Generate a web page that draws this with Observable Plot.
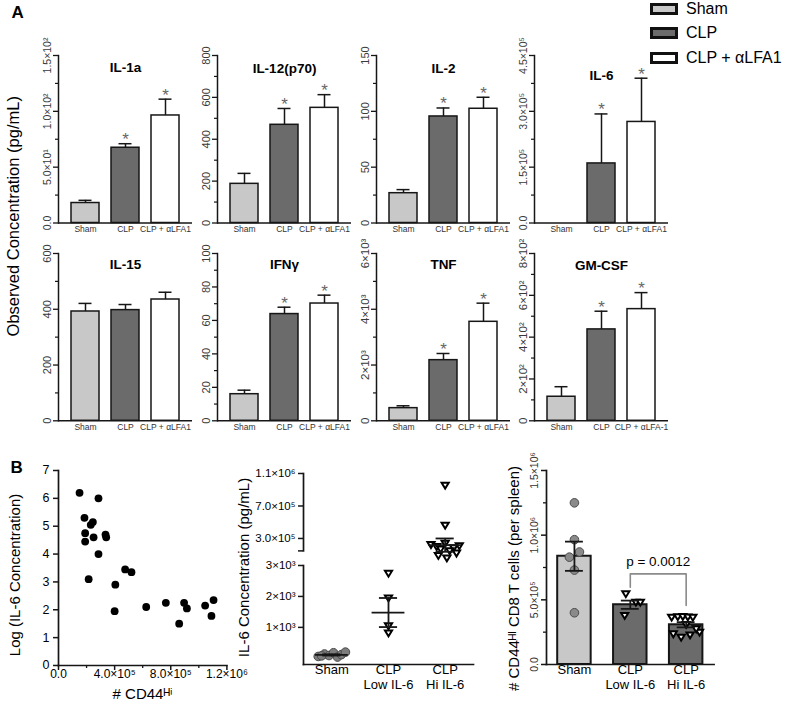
<!DOCTYPE html>
<html><head><meta charset="utf-8">
<script src="https://cdn.jsdelivr.net/npm/d3@7"></script>
<script src="https://cdn.jsdelivr.net/npm/@observablehq/plot@0.6"></script>
<style>
body{margin:0;background:#fff;}
#root{position:relative;width:786px;height:706px;overflow:hidden;font-family:"Liberation Sans",Arial,sans-serif;color:#000;background:#fff;}
#root svg{position:absolute;overflow:visible;}
.leg{position:absolute;display:flex;align-items:center;font-size:16px;white-space:nowrap;}
.leg span.box{display:inline-block;width:22px;height:6px;border:3px solid #111;margin-right:8px;}
</style></head><body><div id="root"></div>
<script>
// ---------------- DATA ----------------
// Panel A
const groupsA = ["Sham", "CLP", "CLP + αLFA1"];
const groupColors = ["#c8c8c8", "#6b6b6b", "#ffffff"];
const cytokines = ["IL-1a", "IL-12(p70)", "IL-2", "IL-6", "IL-15", "IFNγ", "TNF", "GM-CSF"];
const meanSham = [17.9, 187, 26.7, 0, 392, 15.9, 454, 115];
const meanCLP  = [67.4, 469, 95.4, 160000, 397, 63.8, 2175, 437];
const meanCLPa = [96.3, 550, 102.3, 271500, 435, 70.1, 3550, 534];
const errSham  = [20.3, 237, 29.9, 0, 421, 18.3, 538, 163];
const errCLP   = [71.0, 547, 103, 293000, 417, 67.9, 2414, 524];
const errCLPa  = [110.9, 613, 112.6, 389000, 461, 75.1, 4219, 613];
const starCLP  = [1, 1, 1, 1, 0, 1, 1, 1];
const starCLPa = [1, 1, 1, 1, 0, 1, 1, 1];
const yMaxA    = [150, 800, 150, 450000, 600, 100, 6000, 800];
const yStepA   = [50, 200, 50, 150000, 200, 20, 2000, 200];
const yMinorA  = [25, 100, 25, 75000, 100, 10, 1000, 100];
const yTickLabelsA = [
  ["0.0", "5.0×10¹", "1.0×10²", "1.5×10²"],
  ["0", "200", "400", "600", "800"],
  ["0", "50", "100", "150"],
  ["0.0", "1.5×10⁵", "3.0×10⁵", "4.5×10⁵"],
  ["0", "200", "400", "600"],
  ["0", "20", "40", "60", "80", "100"],
  ["0", "2×10³", "4×10³", "6×10³"],
  ["0", "2×10²", "4×10²", "6×10²", "8×10²"]
];
const catLabelsA = [
  ["Sham", "CLP", "CLP + αLFA1"], ["Sham", "CLP", "CLP + αLFA1"], ["Sham", "CLP", "CLP + αLFA1"], ["Sham", "CLP", "CLP + αLFA1"],
  ["Sham", "CLP", "CLP + αLFA1"], ["Sham", "CLP", "CLP + αLFA1"], ["Sham", "CLP", "CLP + αLFA1"], ["Sham", "CLP", "CLP + αLFA-1"]
];
const legendLabels = ["Sham", "CLP", "CLP + αLFA1"];
const titleA = "Observed Concentration (pg/mL)";

// Panel B left: scatter
const cd44Hi = [150000, 285000, 185000, 245000, 230000, 190000, 190000, 250000, 335000, 340000, 285000, 215000,
                405000, 475000, 520000, 400000, 625000, 765000, 895000, 915000, 860000, 1045000, 1105000, 1090000];
const logIL6 = [6.2, 6.0, 5.3, 5.15, 5.05, 4.75, 4.45, 4.6, 4.7, 4.6, 4.0, 3.1,
                2.9, 3.45, 3.35, 1.95, 2.1, 2.25, 2.25, 2.05, 1.5, 2.15, 2.35, 1.78];
const scatterXTicks = [0, 400000, 800000, 1200000];
const scatterXLabels = ["0.0", "4.0×10⁵", "8.0×10⁵", "1.2×10⁶"];
const scatterXMinor = [200000, 600000, 1000000];
const scatterYTicks = [0, 1, 2, 3, 4, 5, 6, 7];
const scatterYLabels = ["0", "1", "2", "3", "4", "5", "6", "7"];
const scatterXTitle = "# CD44ᴴⁱ";
const scatterYTitle = "Log (IL-6 Concentration)";

// Panel B middle: IL-6 by group (broken axis)
const groupsB = ["Sham", "CLP\nLow IL-6", "CLP\nHi IL-6"];
const il6Sham = [60, 140, 90, 180, 40, 120, 200, 80];
const il6ShamJitter = [-0.24, -0.13, -0.05, 0.03, 0.1, 0.17, 0.24, -0.18];
const il6Low = [2750, 1950, 1050, 820];
const il6LowJitter = [0, 0, 0, 0];
const il6Hi = [956000, 464000, 240000, 225000, 210000, 200000, 185000, 170000, 150000, 120000, 90000, 60000];
const il6HiJitter = [0, 0, 0, -0.25, 0.25, -0.15, 0.15, -0.08, 0.08, 0.2, -0.12, 0.03];
const il6Mean = [110, 1480, 218000];
const il6Sem = [20, 470, 82000];
const il6UpperTicks = [300000, 700000, 1100000];
const il6UpperLabels = ["3.0×10⁵", "7.0×10⁵", "1.1×10⁶"];
const il6BreakValue = 147000;
const il6LowerTicks = [1000, 2000, 3000];
const il6LowerLabels = ["1×10³", "2×10³", "3×10³"];
const il6YTitle = "IL-6 Concentration (pg/mL)";

// Panel B right: CD44hi CD8 T cells
const cd8Sham = [1250000, 965000, 870000, 830000, 730000, 400000];
const cd8ShamJitter = [0, 0, 0.09, -0.09, 0, 0];
const cd8Low = [547000, 379000, 482000, 482000];
const cd8LowJitter = [-0.08, -0.1, 0.1, 0.18];
const cd8Hi = [366000, 370000, 372000, 368000, 365000, 309000, 237000, 211000, 229000, 250000, 276000];
const cd8HiJitter = [-0.26, -0.15, -0.06, 0.03, 0.12, 0, -0.23, -0.09, 0.07, 0.24, 0.18];
const cd8Mean = [837000, 462000, 307000];
const cd8Sem = [113000, 32000, 20000];
const cd8Ticks = [0, 500000, 1000000, 1500000];
const cd8TickLabels = ["0.0", "5.0×10⁵", "1.0×10⁶", "1.5×10⁶"];
const cd8Minor = [250000, 750000, 1250000];
const cd8YTitle = "# CD44ᴴᴵ CD8 T cells (per spleen)";
const pBracket = {from: 1, to: 2, top: 701000, leftEnd: 598000, rightEnd: 456000, label: "p = 0.0012"};

// ---------------- HELPERS ----------------
const FONT = '"Liberation Sans", Arial, sans-serif';
const INK = "#161616";
const root = document.getElementById("root");
function place(svg, left, top) {
  svg.style.left = left + "px";
  svg.style.top = top + "px";
  root.appendChild(svg);
}
const triDown = {
  draw(ctx, size) {
    const r = Math.sqrt(size / Math.PI);
    ctx.moveTo(-1.15 * r, -0.8 * r);
    ctx.lineTo(1.15 * r, -0.8 * r);
    ctx.lineTo(0, 1.1 * r);
    ctx.closePath();
  }
};
function catLabelMarks(cats, fontSize) {
  const rows = cats.map((c, k) => {
    const parts = c.split("\n");
    return {k, a: parts[0], b: parts[1] || ""};
  });
  return [
    Plot.text(rows, {x: "k", text: "a", frameAnchor: "bottom", dy: 9.5, fontSize}),
    Plot.text(rows.filter(d => d.b), {x: "k", text: "b", frameAnchor: "bottom", dy: 24.5, fontSize})
  ];
}

// legend (plain positioned HTML, no transforms)
legendLabels.forEach((lab, j) => {
  const el = document.createElement("div");
  el.className = "leg";
  el.innerHTML = `<span class="box" style="background:${groupColors[j]}"></span>${lab}`;
  el.style.left = "650px";
  el.style.top = (0 + j * 24.3) + "px";
  root.appendChild(el);
});

// ---------------- PANEL A ----------------
const axisXA = [58, 216.5, 376, 534];
const rowTop = [54.5, 252.7], rowBottom = [222, 420];
const tickFontA = [10.5, 11, 11, 10.5, 11, 11, 11.5, 11.5];
const titleDy = [12, 13, 13, 20, 11.5, 11.5, 11, 12];
const meansA = [meanSham, meanCLP, meanCLPa];
const errsA = [errSham, errCLP, errCLPa];
const starsA = [[0,0,0,0,0,0,0,0], starCLP, starCLPa];

for (let i = 0; i < 8; i++) {
  const col = i % 4, row = Math.floor(i / 4);
  const mL = 44, mT = 40, mR = 14, mB = 26;
  const fw = 134, fh = rowBottom[row] - rowTop[row];
  const rows = groupsA.map((g, j) => ({g, v: meansA[j][i], e: errsA[j][i], star: starsA[j][i]}));
  const withErr = rows.filter(d => d.e > d.v);
  const ticks = d3.range(0, yMaxA[i] + yStepA[i] / 2, yStepA[i]);
  const minor = d3.range(0, yMaxA[i] + yMinorA[i] / 2, yMinorA[i]).filter(t => !ticks.some(u => Math.abs(u - t) < 1e-9));
  const tickRows = ticks.map((t, k) => ({t, lab: yTickLabelsA[i][k]}));
  const xLab = new Map(groupsA.map((g, j) => [g, catLabelsA[i][j]]));
  const extra = i === 0 ? [
    Plot.text(["A"], {frameAnchor: "top-left", dx: -47, dy: -42.5, text: d => d, fontWeight: "bold", fontSize: 17, lineAnchor: "middle"}),
    Plot.text([titleA], {frameAnchor: "left", dx: -45, dy: 77, rotate: -90, textAnchor: "middle", lineAnchor: "middle", text: d => d, fontSize: 16.5})
  ] : [];
  const svg = Plot.plot({
    width: mL + fw + mR, height: mT + fh + mB,
    marginLeft: mL, marginRight: mR, marginTop: mT, marginBottom: mB,
    style: {fontFamily: FONT, background: "transparent", overflow: "visible"},
    x: {type: "band", domain: groupsA, range: [mL + 13, mL + 121], paddingInner: 0.3, paddingOuter: 0, label: null},
    y: {domain: [0, yMaxA[i]], label: null},
    color: {domain: groupsA, range: groupColors},
    marks: [
      Plot.barY(rows, {x: "g", y: "v", fill: "g", stroke: INK, strokeWidth: 1.5}),
      Plot.ruleX(withErr, {x: "g", y1: "v", y2: "e", stroke: INK, strokeWidth: 1.5}),
      Plot.tickY(withErr, {x: "g", y: "e", stroke: INK, strokeWidth: 1.5, insetLeft: 7.5, insetRight: 7.5}),
      Plot.text(rows.filter(d => d.star), {x: "g", y: "e", text: () => "*", dy: -4, fontSize: 17, fill: "#666"}),
      Plot.ruleY([0], {stroke: INK, strokeWidth: 1.5}),
      Plot.frame({anchor: "left", stroke: INK, strokeWidth: 1.5}),
      Plot.axisY({ticks, tickSize: 5, tickFormat: () => "", stroke: INK, strokeWidth: 1.3, label: null}),
      Plot.axisY({ticks: minor, tickSize: 3, tickFormat: () => "", stroke: INK, strokeWidth: 1.2, label: null}),
      Plot.text(tickRows, {y: "t", text: "lab", frameAnchor: "left", dx: -11, rotate: -90, textAnchor: "middle", fontSize: tickFontA[i], fill: "#3a3a3a"}),
      Plot.axisX({tickSize: 0, tickPadding: 3, fontSize: 8.5, tickFormat: d => xLab.get(d), label: null, fill: "#333"}),
      Plot.text([cytokines[i]], {x: () => "CLP", frameAnchor: "top", lineAnchor: "middle", dy: titleDy[i], text: d => d, fontWeight: "bold", fontSize: 13.5}),
      ...extra
    ]
  });
  place(svg, axisXA[col] - mL, rowTop[row] - mT);
}

// ---------------- PANEL B LEFT (scatter) ----------------
{
  const mL = 50, mT = 14, mR = 20, mB = 36;
  const fx0 = 58.3, fx1 = 226.7, fy0 = 470, fy1 = 665;
  const pts = cd44Hi.map((x, k) => ({x, y: logIL6[k]}));
  const xRows = scatterXTicks.map((t, k) => ({t, lab: scatterXLabels[k]}));
  const yRows = scatterYTicks.map((t, k) => ({t, lab: scatterYLabels[k]}));
  const svg = Plot.plot({
    width: mL + (fx1 - fx0) + mR, height: mT + (fy1 - fy0) + mB,
    marginLeft: mL, marginRight: mR, marginTop: mT, marginBottom: mB,
    style: {fontFamily: FONT, background: "transparent", overflow: "visible"},
    x: {domain: [0, 1200000], label: null},
    y: {domain: [0, 7], label: null},
    marks: [
      Plot.frame({anchor: "left", stroke: INK, strokeWidth: 1.7}),
      Plot.frame({anchor: "bottom", stroke: INK, strokeWidth: 1.7}),
      Plot.axisX({ticks: scatterXTicks, tickSize: 5, tickFormat: () => "", stroke: INK, strokeWidth: 1.5, label: null}),
      Plot.axisX({ticks: scatterXMinor, tickSize: 3, tickFormat: () => "", stroke: INK, strokeWidth: 1.3, label: null}),
      Plot.axisY({ticks: scatterYTicks, tickSize: 5, tickFormat: () => "", stroke: INK, strokeWidth: 1.5, label: null}),
      Plot.text(xRows, {x: "t", text: "lab", frameAnchor: "bottom", dy: 13, fontSize: 12}),
      Plot.text(yRows, {y: "t", text: "lab", frameAnchor: "left", dx: -9, textAnchor: "end", fontSize: 12.5}),
      Plot.dot(pts, {x: "x", y: "y", r: 3.9, fill: "#000"}),
      Plot.text(["B"], {frameAnchor: "top-left", dx: -48, dy: -3, text: d => d, fontWeight: "bold", fontSize: 17, lineAnchor: "middle"}),
      Plot.text([scatterYTitle], {frameAnchor: "left", dx: -43, dy: 7, rotate: -90, textAnchor: "middle", lineAnchor: "middle", text: d => d, fontSize: 15}),
      Plot.text([scatterXTitle], {frameAnchor: "bottom", dy: 29, lineAnchor: "middle", text: d => d, fontSize: 15})
    ]
  });
  place(svg, fx0 - mL, fy0 - mT);
}

// ---------------- PANEL B MIDDLE (broken axis) ----------------
const statsB = il6Mean.map((m, k) => ({k, m, lo: m - il6Sem[k], hi: m + il6Sem[k]}));
const shamPts = il6Sham.map((v, k) => ({x: 0 + il6ShamJitter[k], v}));
const lowPts = il6Low.map((v, k) => ({x: 1 + il6LowJitter[k], v}));
const hiPts = il6Hi.map((v, k) => ({x: 2 + il6HiJitter[k], v}));
function meanSemMarks(stats) {
  return [
    Plot.ruleX(stats, {x: "k", y1: "lo", y2: "hi", stroke: INK, strokeWidth: 1.8}),
    Plot.ruleY(stats, {y: "m", x1: d => d.k - 0.29, x2: d => d.k + 0.29, stroke: INK, strokeWidth: 1.8}),
    Plot.ruleY(stats, {y: "hi", x1: d => d.k - 0.16, x2: d => d.k + 0.16, stroke: INK, strokeWidth: 1.8}),
    Plot.ruleY(stats, {y: "lo", x1: d => d.k - 0.16, x2: d => d.k + 0.16, stroke: INK, strokeWidth: 1.8})
  ];
}
{
  const mL = 52, mT = 10, mR = 12, mB = 0;
  const fx0 = 303.3, fx1 = 473.3, fy0 = 473.3, fy1 = 550.7;
  const rowsT = il6UpperTicks.map((t, k) => ({t, lab: il6UpperLabels[k]}));
  const svg = Plot.plot({
    width: mL + (fx1 - fx0) + mR, height: mT + (fy1 - fy0) + mB,
    marginLeft: mL, marginRight: mR, marginTop: mT, marginBottom: mB,
    style: {fontFamily: FONT, background: "transparent", overflow: "visible"},
    x: {domain: [-0.5, 2.5], axis: null},
    y: {domain: [il6BreakValue, 1100000], label: null},
    marks: [
      Plot.frame({anchor: "left", stroke: INK, strokeWidth: 1.7}),
      Plot.axisY({ticks: [...il6UpperTicks, il6BreakValue], tickSize: 5, tickFormat: () => "", stroke: INK, strokeWidth: 1.5, label: null}),
      Plot.text(rowsT, {y: "t", text: "lab", frameAnchor: "left", dx: -8, textAnchor: "end", fontSize: 11.5}),
      Plot.dot(hiPts, {x: "x", y: "v", r: 3.1, symbol: triDown, fill: "#fff", stroke: "#000", strokeWidth: 2}),
      ...meanSemMarks(statsB.filter(d => d.k === 2))
    ]
  });
  place(svg, fx0 - mL, fy0 - mT);
}
{
  const mL = 52, mT = 10, mR = 12, mB = 40;
  const fx0 = 303.3, fx1 = 473.3, fy0 = 565, fy1 = 664;
  const rowsT = il6LowerTicks.map((t, k) => ({t, lab: il6LowerLabels[k]}));
  const svg = Plot.plot({
    width: mL + (fx1 - fx0) + mR, height: mT + (fy1 - fy0) + mB,
    marginLeft: mL, marginRight: mR, marginTop: mT, marginBottom: mB,
    style: {fontFamily: FONT, background: "transparent", overflow: "visible"},
    x: {domain: [-0.5, 2.5], axis: null},
    y: {domain: [-200, 3000], label: null},
    marks: [
      Plot.frame({anchor: "left", stroke: INK, strokeWidth: 1.7}),
      Plot.frame({anchor: "bottom", stroke: INK, strokeWidth: 1.7}),
      Plot.axisY({ticks: il6LowerTicks, tickSize: 5, tickFormat: () => "", stroke: INK, strokeWidth: 1.5, label: null}),
      Plot.text(rowsT, {y: "t", text: "lab", frameAnchor: "left", dx: -8, textAnchor: "end", fontSize: 11.5}),
      ...catLabelMarks(groupsB, 13),
      Plot.dot(shamPts, {x: "x", y: "v", r: 4.3, fill: "#7d7d7d", stroke: "#4a4a4a", strokeWidth: 1}),
      Plot.dot(lowPts, {x: "x", y: "v", r: 3.1, symbol: triDown, fill: "#fff", stroke: "#000", strokeWidth: 2}),
      ...meanSemMarks(statsB.filter(d => d.k < 2)),
      Plot.text([il6YTitle], {frameAnchor: "left", dx: -59.3, dy: -47.5, rotate: -90, textAnchor: "middle", lineAnchor: "middle", text: d => d, fontSize: 15})
    ]
  });
  place(svg, fx0 - mL, fy0 - mT);
}

// ---------------- PANEL B RIGHT (bars + points) ----------------
{
  const mL = 36, mT = 12, mR = 14, mB = 40;
  const fx0 = 545.7, fx1 = 713.3, fy0 = 470, fy1 = 664;
  const bars = cd8Mean.map((m, k) => ({k, m, lo: m - cd8Sem[k], hi: m + cd8Sem[k], g: groupsB[k]}));
  const sPts = cd8Sham.map((v, k) => ({x: 0 + cd8ShamJitter[k], v}));
  const lPts = cd8Low.map((v, k) => ({x: 1 + cd8LowJitter[k], v}));
  const hPts = cd8Hi.map((v, k) => ({x: 2 + cd8HiJitter[k], v}));
  const tickRows = cd8Ticks.map((t, k) => ({t, lab: cd8TickLabels[k]}));
  const bracket = [
    {x: pBracket.from, y: pBracket.leftEnd}, {x: pBracket.from, y: pBracket.top},
    {x: pBracket.to, y: pBracket.top}, {x: pBracket.to, y: pBracket.rightEnd}
  ];
  const svg = Plot.plot({
    width: mL + (fx1 - fx0) + mR, height: mT + (fy1 - fy0) + mB,
    marginLeft: mL, marginRight: mR, marginTop: mT, marginBottom: mB,
    style: {fontFamily: FONT, background: "transparent", overflow: "visible"},
    x: {domain: [-0.5, 2.5], axis: null},
    y: {domain: [0, 1500000], label: null},
    color: {domain: groupsB, range: ["#c8c8c8", "#6b6b6b", "#6b6b6b"]},
    marks: [
      Plot.rectY(bars, {x1: d => d.k - 0.5, x2: d => d.k + 0.5, y: "m", fill: "g", stroke: INK, strokeWidth: 2, insetLeft: 11.2, insetRight: 11.2}),
      Plot.dot(sPts, {x: "x", y: "v", r: 4.3, fill: "#8a8a8a", stroke: "#4a4a4a", strokeWidth: 1}),
      Plot.dot(lPts, {x: "x", y: "v", r: 3.1, symbol: triDown, fill: "#fff", stroke: "#000", strokeWidth: 2}),
      Plot.dot(hPts, {x: "x", y: "v", r: 3.1, symbol: triDown, fill: "#fff", stroke: "#000", strokeWidth: 2}),
      Plot.ruleX(bars, {x: "k", y1: "lo", y2: "hi", stroke: INK, strokeWidth: 1.8}),
      Plot.ruleY(bars, {y: "hi", x1: d => d.k - 0.16, x2: d => d.k + 0.16, stroke: INK, strokeWidth: 1.8}),
      Plot.ruleY(bars, {y: "lo", x1: d => d.k - 0.16, x2: d => d.k + 0.16, stroke: INK, strokeWidth: 1.8}),
      Plot.line(bracket, {x: "x", y: "y", stroke: "#8a8a8a", strokeWidth: 1.6}),
      Plot.text([pBracket], {x: d => (d.from + d.to) / 2, y: "top", text: "label", dy: -12, fontSize: 13.5}),
      Plot.frame({anchor: "left", stroke: INK, strokeWidth: 1.7}),
      Plot.frame({anchor: "bottom", stroke: INK, strokeWidth: 1.7}),
      Plot.axisY({ticks: cd8Ticks, tickSize: 5, tickFormat: () => "", stroke: INK, strokeWidth: 1.5, label: null}),
      Plot.axisY({ticks: cd8Minor, tickSize: 3, tickFormat: () => "", stroke: INK, strokeWidth: 1.3, label: null}),
      Plot.text(tickRows, {y: "t", text: "lab", frameAnchor: "left", dx: -12, rotate: -90, textAnchor: "middle", fontSize: 10.5, fill: "#333"}),
      ...catLabelMarks(groupsB, 13),
      Plot.text([cd8YTitle], {frameAnchor: "left", dx: -32.7, dy: 11, rotate: -90, textAnchor: "middle", lineAnchor: "middle", text: d => d, fontSize: 15})
    ]
  });
  place(svg, fx0 - mL, fy0 - mT);
}
</script>
</body></html>
